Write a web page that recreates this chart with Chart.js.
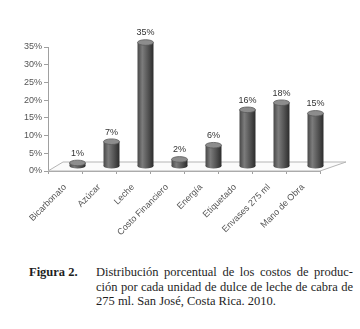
<!DOCTYPE html>
<html>
<head>
<meta charset="utf-8">
<script src="https://cdn.jsdelivr.net/npm/chart.js@4/dist/chart.umd.min.js"></script>
<style>
  html, body { margin: 0; padding: 0; background: #fff; }
  body { width: 360px; height: 329px; position: relative; overflow: hidden; }
  #chart { position: absolute; left: 0; top: 0; }
  .cap { position: absolute; font-family: "Liberation Serif", "Times New Roman", serif;
         font-size: 12.5px; line-height: 14.5px; color: #1e1e1e; }
  #fig { left: 29px; top: 265px; font-weight: bold; }
  #txt { left: 96px; top: 265px; width: 257px; }
  #txt div { text-align: justify; text-align-last: justify; }
  #txt div.last { text-align-last: left; }
</style>
</head>
<body>
<canvas id="chart" width="360" height="255"></canvas>
<div class="cap" id="fig">Figura 2.</div>
<div class="cap" id="txt">
  <div>Distribución porcentual de los costos de produc-</div>
  <div>ción por cada unidad de dulce de leche de cabra de</div>
  <div class="last">275 ml. San José, Costa Rica. 2010.</div>
</div>
<script>
const categories = ["Bicarbonato", "Azúcar", "Leche", "Costo Financiero", "Energía",
                    "Etiquetado", "Envases 275 ml", "Mano de Obra"];
const costShare = [1, 7, 35, 2, 6, 16, 18, 15];
const yTicks = [0, 5, 10, 15, 20, 25, 30, 35];

const FONT = '"Liberation Sans Narrow", "Liberation Sans", sans-serif';
const DX = 12.5, DY = -4.5;   // 3d depth offset of bars
const BAR_PCT = 0.47;

function barWidth(chart) {
  const a = chart.chartArea;
  return (a.right - a.left) / categories.length * BAR_PCT;
}

function cylGradient(ctx, cx, w) {
  const g = ctx.createLinearGradient(cx - w / 2, 0, cx + w / 2, 0);
  g.addColorStop(0, "#474747");
  g.addColorStop(0.3, "#7c7c7c");
  g.addColorStop(0.65, "#555555");
  g.addColorStop(1, "#2c2c2c");
  return g;
}

const floorAndCylinders = {
  id: "floorAndCylinders",
  beforeDatasetsDraw(chart) {
    const { ctx, chartArea: a } = chart;
    ctx.save();
    ctx.beginPath();
    ctx.moveTo(a.left, a.bottom);
    ctx.lineTo(a.right, a.bottom);
    ctx.lineTo(a.right + 26, a.bottom - 9);
    ctx.lineTo(a.left + 15, a.bottom - 9);
    ctx.closePath();
    ctx.fillStyle = "#fbfbfb";
    ctx.fill();
    ctx.strokeStyle = "#b5b5b5";
    ctx.lineWidth = 1;
    ctx.stroke();
    ctx.restore();
    ctx.save();
    ctx.translate(DX, DY);
  },
  afterDatasetsDraw(chart) {
    const { ctx } = chart;
    const meta = chart.getDatasetMeta(0);
    const w = barWidth(chart);
    meta.data.forEach((el) => {
      ctx.beginPath();
      ctx.ellipse(el.x, el.base, w / 2, 2.5, 0, 0, Math.PI * 2);
      ctx.fillStyle = cylGradient(ctx, el.x, w);
      ctx.fill();
      ctx.beginPath();
      ctx.ellipse(el.x, el.y, w / 2, 2.8, 0, 0, Math.PI * 2);
      ctx.fillStyle = "#8d8d8d";
      ctx.fill();
      ctx.strokeStyle = "#5a5a5a";
      ctx.lineWidth = 0.8;
      ctx.stroke();
    });
    ctx.restore();

    ctx.save();
    ctx.font = "9px " + FONT;
    ctx.fillStyle = "#333";
    ctx.textAlign = "center";
    ctx.textBaseline = "middle";
    meta.data.forEach((el, i) => {
      ctx.fillText(costShare[i] + "%", el.x + DX, el.y + DY - 9.5);
    });
    ctx.restore();
  }
};

new Chart(document.getElementById("chart"), {
  type: "bar",
  data: {
    labels: categories,
    datasets: [{
      data: costShare,
      clip: false,
      borderWidth: 0,
      categoryPercentage: 1,
      barPercentage: BAR_PCT,
      backgroundColor: (c) => {
        const chart = c.chart;
        if (!chart.chartArea || !chart.scales.x) return "#555";
        const cx = chart.scales.x.getPixelForValue(c.dataIndex);
        return cylGradient(chart.ctx, cx, barWidth(chart));
      }
    }]
  },
  options: {
    responsive: false,
    animation: false,
    devicePixelRatio: 1,
    layout: { padding: { top: 47, left: 0, right: 40, bottom: 0 } },
    plugins: { legend: { display: false }, tooltip: { enabled: false } },
    scales: {
      x: {
        afterFit: (s) => { s.height = 84; },
        grid: { offset: true, drawOnChartArea: false, drawTicks: true, tickLength: 3, color: "#a0a0a0" },
        border: { color: "#a0a0a0" },
        ticks: {
          autoSkip: false, maxRotation: 45, minRotation: 45, padding: 8,
          color: "#555", font: { family: FONT, size: 9 }
        }
      },
      y: {
        min: yTicks[0],
        max: yTicks[yTicks.length - 1],
        afterFit: (s) => { s.width = 48; },
        afterBuildTicks: (s) => { s.ticks = yTicks.map((v) => ({ value: v })); },
        grid: { drawOnChartArea: false, drawTicks: true, tickLength: 4, color: "#a0a0a0" },
        border: { color: "#a0a0a0" },
        ticks: {
          padding: 2, color: "#555", font: { family: FONT, size: 9 },
          callback: (v) => v + "%"
        }
      }
    }
  },
  plugins: [floorAndCylinders]
});
</script>
</body>
</html>
